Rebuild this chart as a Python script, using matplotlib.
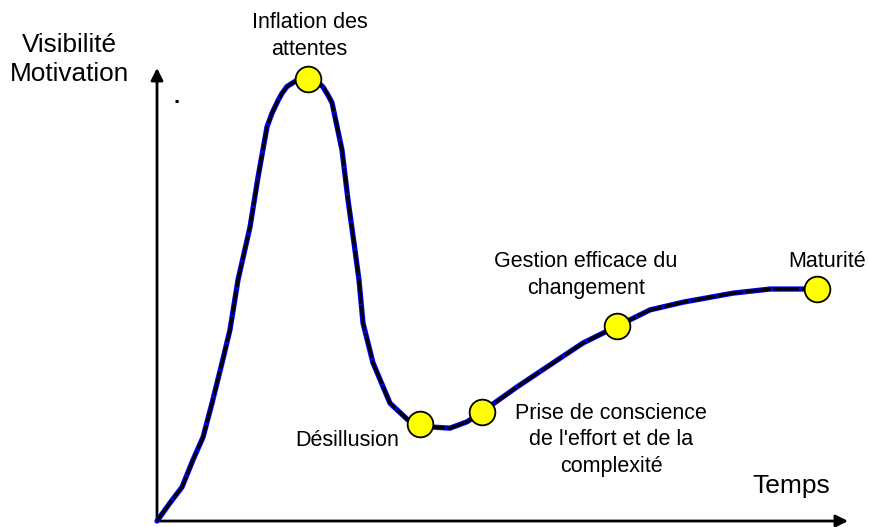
"""Hype-cycle style curve: visibility / motivation over time."""
import matplotlib.pyplot as plt

plt.rcParams['font.family'] = ['Liberation Sans', 'DejaVu Sans']

# ---------- data (0-100 on both axes) ----------
curve_t = [0.0, 1.88, 3.62, 5.21, 6.66, 7.96, 9.41, 10.56, 11.72, 13.46, 14.62, 15.92,
           16.64, 17.51, 18.09, 18.81, 20.26, 21.85, 23.30, 24.02, 24.75, 25.33,
           26.77, 27.64, 28.65, 29.23, 29.81, 31.26, 33.72, 36.32, 38.06, 40.2,
           42.40, 44.86, 47.03, 52.10, 57.31, 61.65, 66.57, 71.35, 76.12, 83.36,
           88.71, 95.51]
curve_v = [0.0, 4.0, 7.5, 13.5, 18.5, 26.0, 34.9, 42.2, 53.2, 64.9, 75.9, 87.0,
           90.0, 92.8, 94.4, 95.9, 97.3, 97.6, 96.9, 95.8, 94.0, 92.3,
           81.9, 70.9, 59.8, 53.2, 43.7, 34.9, 26.0, 22.3, 21.4, 20.7,
           20.5, 21.9, 24.1, 29.6, 34.9, 39.3, 43.0, 46.6, 48.3, 50.3,
           51.2, 51.2]

# key phases (yellow dots)
phase_t = [21.85, 38.06, 47.03, 66.57, 95.51]
phase_v = [97.6, 21.4, 24.1, 43.0, 51.2]

fig = plt.figure(figsize=(8.7, 5.27), dpi=100)
ax = fig.add_axes([0, 0, 1, 1])
ax.set_xlim(-22.72, 103.18)
ax.set_ylim(-1.32, 115.0)
ax.axis('off')

# axes with arrow heads
ax.annotate('', xy=(0, 100), xytext=(0, 0),
            arrowprops=dict(arrowstyle='-|>', lw=2, color='black',
                            mutation_scale=18, shrinkA=0, shrinkB=0))
ax.annotate('', xy=(100, 0), xytext=(0, 0),
            arrowprops=dict(arrowstyle='-|>', lw=2, color='black',
                            mutation_scale=18, shrinkA=0, shrinkB=0))

# the curve: blue underlay + dashed black on top
ax.plot(curve_t, curve_v, color='#0000ff', lw=3.8, solid_joinstyle='round',
        solid_capstyle='round', zorder=3)
ax.plot(curve_t, curve_v, color='black', lw=2.3, ls=(0, (8, 0.7)),
        dash_joinstyle='round', zorder=4)
ax.plot(phase_t, phase_v, 'o', ms=18.5, mfc='#ffff00', mec='black', mew=1.3, zorder=5)

# labels
ax.text(-12.7, 101.9, "Visibilité\nMotivation", fontsize=18.8, ha='center', va='center',
        linespacing=1.3)
ax.text(91.75, 7.7, "Temps", fontsize=19, ha='center', va='center')
ax.text(2.9, 93.5, ".", fontsize=16, fontweight='bold', ha='center', va='center')

ax.text(22.1, 107.1, "Inflation des\nattentes", fontsize=15.5, ha='center', va='center',
        linespacing=1.4)
ax.text(27.5, 17.7, "Désillusion", fontsize=15.5, ha='center', va='center')
ax.text(65.7, 17.9, "Prise de conscience\nde l'effort et de la\ncomplexité", fontsize=15.5,
        ha='center', va='center', linespacing=1.35)
ax.text(62.1, 54.3, "Gestion efficace du\nchangement", fontsize=15.5, ha='center',
        va='center', linespacing=1.35)
ax.text(97.0, 57.2, "Maturité", fontsize=15.5, ha='center', va='center')

plt.savefig("out.png", dpi=100)
